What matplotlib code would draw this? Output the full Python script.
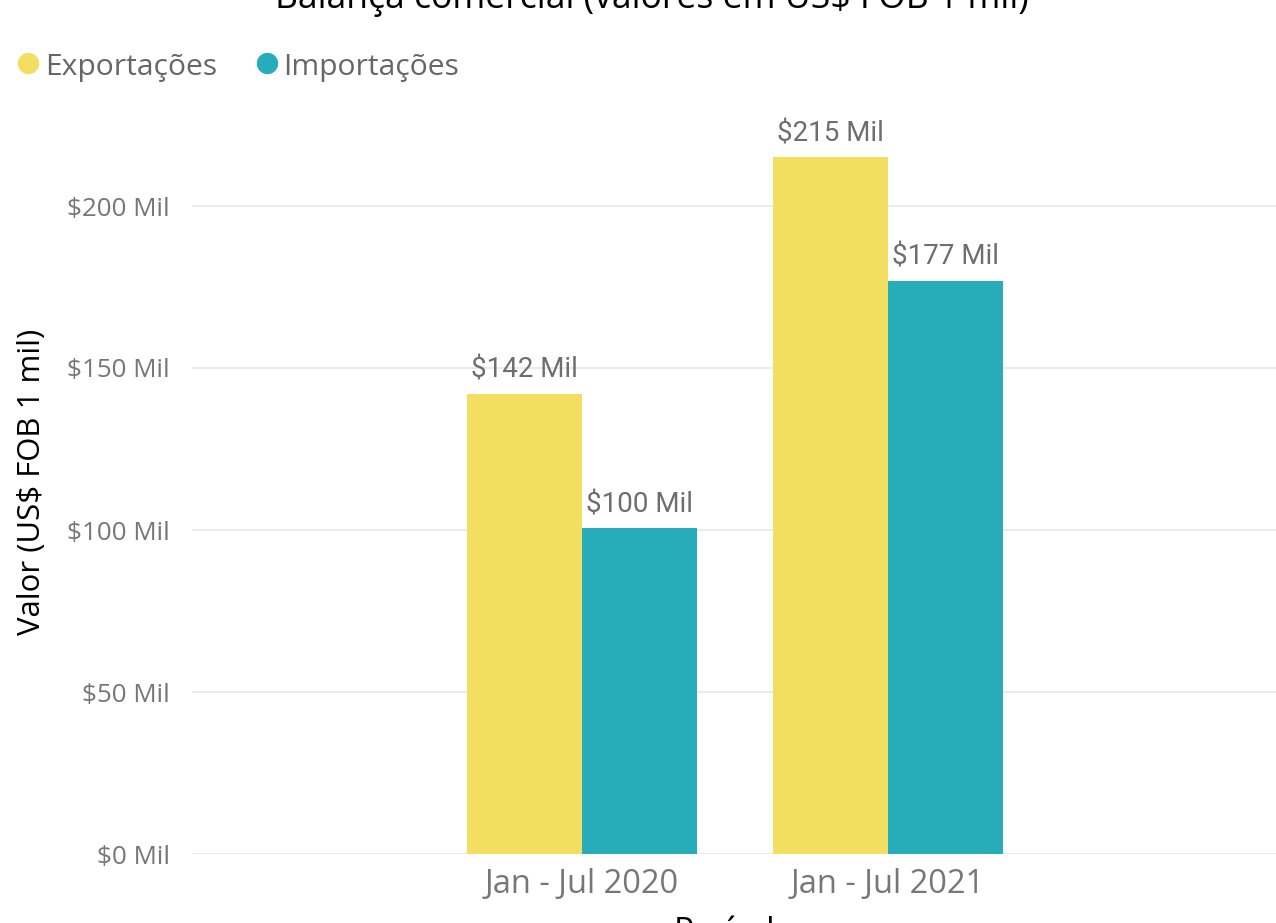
import numpy as np
import matplotlib.pyplot as plt
from matplotlib.lines import Line2D

# Data
periods = ['Jan - Jul 2020', 'Jan - Jul 2021']
series = ['Exportações', 'Importações']
exportacoes = [142, 215]
importacoes = [100.5, 177]
yticks = [0, 50, 100, 150, 200]

col_exp = '#F2DF62'
col_imp = '#26ADB9'

plt.rcParams['font.family'] = ['Open Sans', 'DejaVu Sans']

W, H = 1276, 923
fig = plt.figure(figsize=(W/100, H/100), dpi=100)
ax = fig.add_axes([192/W, 1 - 854/H, 1 - 192/W, (854 - 102)/H])

x = np.arange(len(periods))
w = 0.377
b1 = ax.bar(x - w/2, exportacoes, w, color=col_exp, zorder=3)
b2 = ax.bar(x + w/2, importacoes, w, color=col_imp, zorder=3)

for bars, vals in [(b1, exportacoes), (b2, importacoes)]:
    for r, v in zip(bars, vals):
        ax.annotate('$%d Mil' % int(v), (r.get_x() + r.get_width()/2, r.get_height()),
                    xytext=(0, 11.5), textcoords='offset points', ha='center', va='baseline',
                    fontsize=20, color='#6E6E6E', family=['Roboto', 'DejaVu Sans'])

ax.set_xlim(-1.275, 2.268)
ax.set_ylim(0, (854 - 102)/3.24)
ax.set_yticks(yticks)
ax.set_yticklabels(['$%d Mil' % t for t in yticks])
ax.set_xticks(x)
ax.set_xticklabels(periods)

ax.grid(axis='y', color='#E8E8E8', linewidth=1.3, zorder=0)
for s in ax.spines.values():
    s.set_visible(False)
ax.tick_params(axis='y', length=0, pad=16, labelsize=18.7, labelcolor='#777777')
ax.tick_params(axis='x', length=0, pad=10, labelsize=23.5, labelcolor='#777777')

# axis titles and chart title
fig.text(32/W, 1 - 482/H, 'Valor (US$ FOB 1 mil)', rotation=90, ha='center', va='center',
         fontsize=22.4, color='black')
fig.text(735/W, -18/H, 'Período', ha='center', va='baseline', fontsize=24, color='black')
fig.text(652/W, 1 - 8/H, 'Balança comercial (valores em US$ FOB 1 mil)',
         ha='center', va='baseline', fontsize=25.6, color='black')

# legend
for name, col, cx, tx in [(series[0], col_exp, 28, 45), (series[1], col_imp, 267, 283)]:
    fig.add_artist(Line2D([cx/W], [1 - 63/H], marker='o', linestyle='', color=col,
                          markersize=14.4, transform=fig.transFigure))
    fig.text(tx/W, 1 - 75/H, name, ha='left', va='baseline', fontsize=21.6, color='#666666')

fig.savefig('out.png', dpi=100)
